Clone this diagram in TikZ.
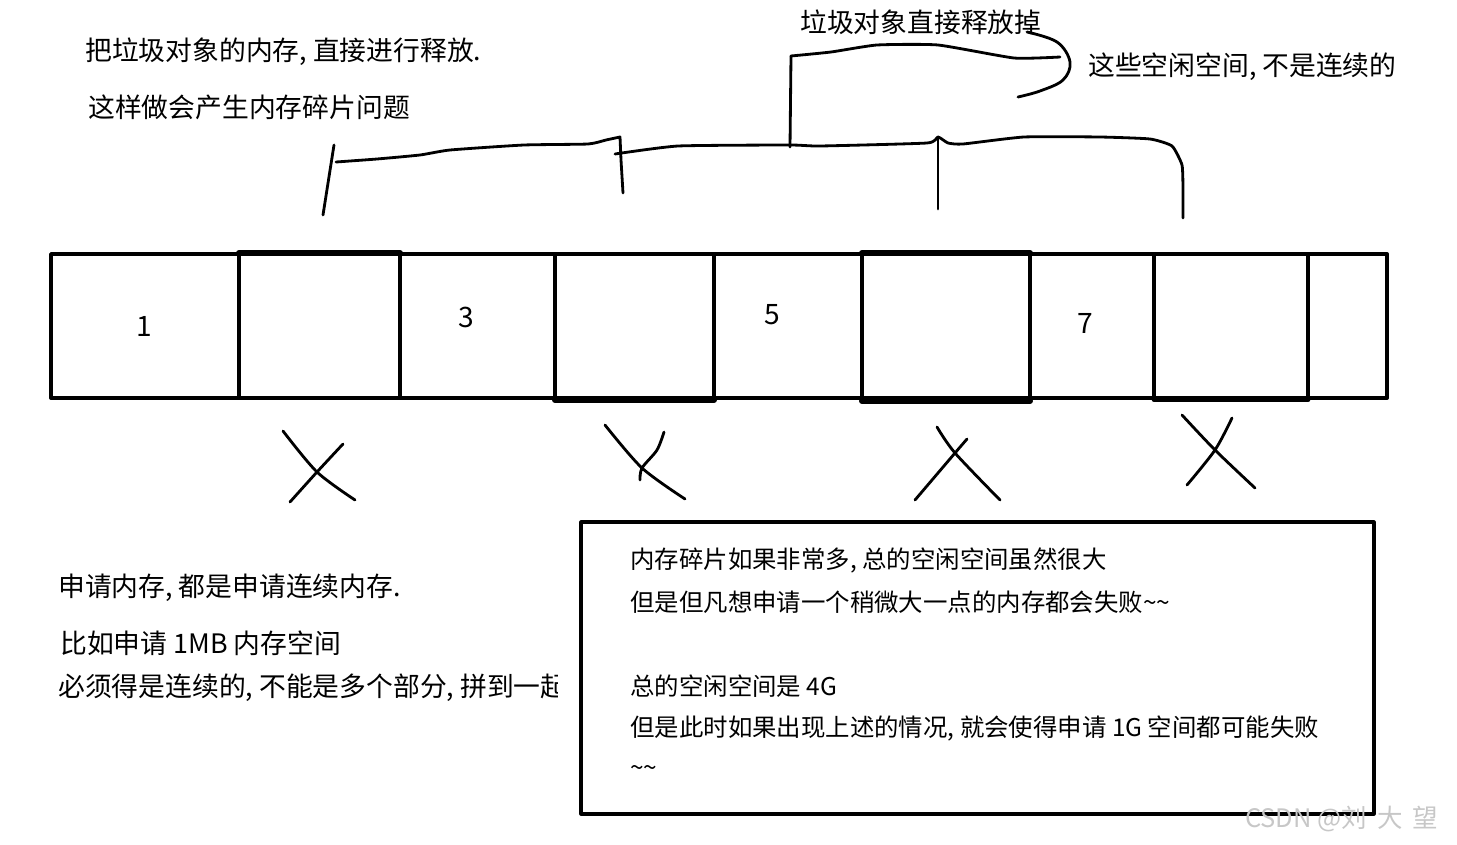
\documentclass[tikz,border=0pt]{standalone}
\usepackage{fontspec}
\setmainfont{Noto Sans CJK SC}

\begin{document}
\begin{tikzpicture}[x=0.02cm,y=-0.02cm,line cap=round,line join=round,
    hand/.style={line width=1.6pt},
    wall/.style={line width=2.2pt},
    note/.style={anchor=west,inner sep=0pt,font=\fontsize{15.25}{18}\selectfont},
    boxnote/.style={anchor=west,inner sep=0pt,font=\fontsize{13.9}{17}\selectfont},
    num/.style={inner sep=0pt,font=\fontsize{16}{18}\selectfont}]
  \useasboundingbox (0,0) rectangle (1457,845);
  % memory cells
  \draw[wall] (51,254) rectangle (1387,398);
  \foreach \x in {239,400,555,714,862,1030,1154,1308}
    \draw[wall] (\x,254)--(\x,398);
  % freed cells, drawn heavier
  \draw[line width=3.4pt] (239,253)--(400,253) (555,400)--(714,400)
    (862,253)--(1030,253) (862,401)--(1030,401);
  \draw[line width=2.8pt] (1154,399.5)--(1308,399.5);
  \node[num] (n1) at (144,326) {1};
  \node[num] (n3) at (466,317) {3};
  \node[num] (n5) at (772,315) {5};
  \node[num] (n7) at (1085,323) {7};

  % crosses under the freed cells
  \draw[hand] plot[smooth,tension=.5] coordinates {(283,431) (317,472) (355,500)}
    plot[smooth,tension=.5] coordinates {(343,444) (317,472) (290,502)};
  \draw[hand] plot[smooth,tension=.5] coordinates {(605,425) (642,468) (685,499)}
    plot[smooth,tension=.5] coordinates {(664,432) (657,450) (642,468) (640,480)};
  \draw[hand] plot[smooth,tension=.5] coordinates {(937,427) (955,453) (1000,500)}
    plot[smooth,tension=.5] coordinates {(967,439) (955,453) (915,500)};
  \draw[hand] plot[smooth,tension=.5] coordinates {(1182,415) (1215,450) (1255,488)}
    plot[smooth,tension=.5] coordinates {(1232,418) (1215,450) (1187,485)};

  % brackets over the freed cells
  \draw[hand] (323,215)--(334,145);
  \draw[hand] plot[smooth,tension=.3] coordinates
    {(336,162) (377,159) (420,155) (450,150) (524,145) (588,144) (606,140) (620,137)}
    -- (621,160) -- (623,193);
  \draw[hand] plot[smooth,tension=.3] coordinates
    {(615,154) (678,146) (790,145) (820,146) (927,143) (938,137) (948,143) (963,144)
     (1024,137) (1100,137) (1150,139) (1172,146) (1182,165) (1183,190) (1183,218)};
  \draw[hand] (938,137)--(938,209);
  \draw[hand] (790,147)--(791,56);
  \draw[hand] plot[smooth,tension=.3] coordinates
    {(791,56) (831,52) (877,45) (938,45) (1014,58) (1060,57)};
  \draw[hand] plot[smooth,tension=.6] coordinates
    {(1027,32) (1057,42) (1070,62) (1063,80) (1040,91) (1018,97)};

  % notes
  \node[note] (freeNote) at (85,52) {把垃圾对象的内存, 直接进行释放.};
  \node[note] (fragNote) at (88,107) {这样做会产生内存碎片问题};
  \node[note] (dropNote) at (800,22) {垃圾对象直接释放掉};
  \node[note] (gapNote) at (1088,67) {这些空闲空间, 不是连续的};
  \node[note] (askNote) at (58,588) {申请内存, 都是申请连续内存.};
  \node[note] (mbNote) at (60,643) {比如申请 1MB 内存空间};
  \begin{scope}
    \clip (0,660) rectangle (557,720);
    \node[note] (contNote) at (58,688) {必须得是连续的, 不能是多个部分, 拼到一起};
  \end{scope}

  % failure box
  \draw[line width=1.8pt] (581,522) rectangle (1374,814);
  \node[boxnote] (b1) at (630,560) {内存碎片如果非常多, 总的空闲空间虽然很大};
  \node[boxnote] (b2) at (630,602) {但是但凡想申请一个稍微大一点的内存都会失败\textasciitilde\textasciitilde};
  \node[boxnote] (b3) at (630,686) {总的空闲空间是 4G};
  \node[boxnote] (b4) at (630,728) {但是此时如果出现上述的情况, 就会使得申请 1G 空间都可能失败};
  \node[boxnote] (b5) at (630,771) {\textasciitilde\textasciitilde};

  \node[anchor=west,inner sep=1pt,text=black!22,font=\fontsize{14.5}{16}\selectfont]
    (mark) at (1243,819) {CSDN @刘\hspace{0.4em}大\hspace{0.4em}望};
\end{tikzpicture}
\end{document}
